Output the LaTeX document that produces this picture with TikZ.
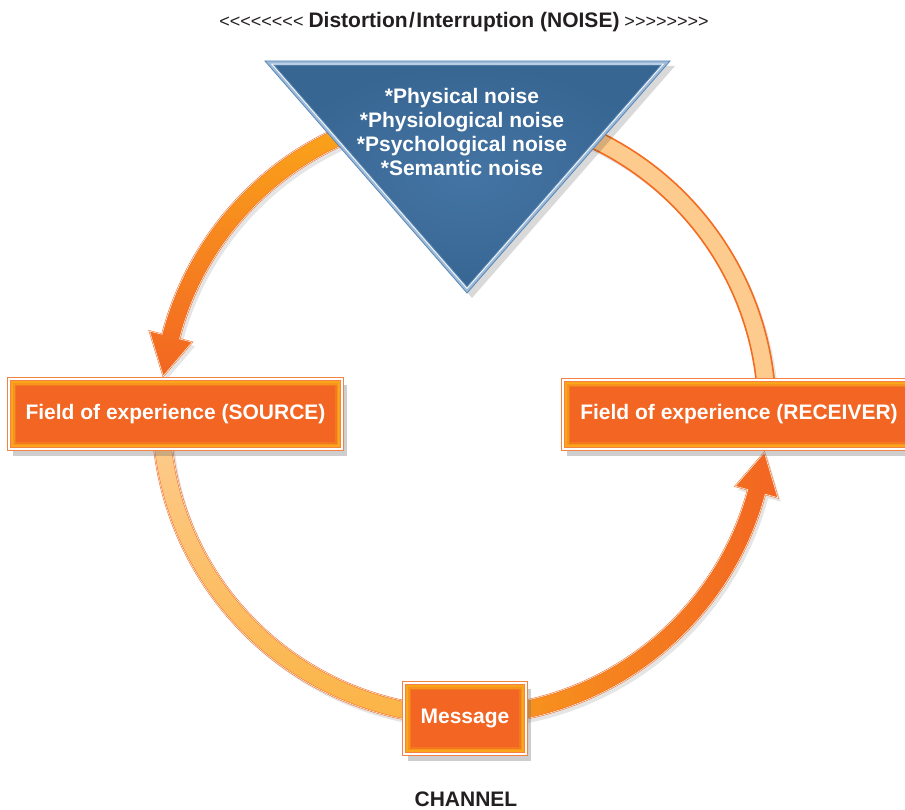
\documentclass[tikz,border=0pt]{standalone}
\usepackage{fontspec}
\newfontfamily\lib{Liberation Sans}
\setmainfont{Liberation Sans}
\usetikzlibrary{shadows}
\definecolor{ordark}{HTML}{F26522}
\definecolor{ormid}{HTML}{F7941D}
\definecolor{orgold}{HTML}{FAA61A}
\definecolor{orline}{HTML}{F36C21}
\definecolor{peach}{HTML}{FDCB8D}
\definecolor{peachdeep}{HTML}{FBB445}
\definecolor{txtdark}{HTML}{231F20}
\definecolor{triedge}{HTML}{9DBBD9}
\definecolor{tribord}{HTML}{5A86B3}
\definecolor{blueA}{HTML}{4474A3}
\definecolor{blueB}{HTML}{386693}
\newcommand\TLpath{(108:312) arc[start angle=108,end angle=165.4,radius=312] -- (165.4:325) -- (173:303) -- (165.4:281) -- (165.4:294) arc[start angle=165.4,end angle=108,radius=294] -- cycle}
\newcommand\TRpath{(72:312) arc[start angle=72,end angle=3,radius=312] -- (3:294) arc[start angle=3,end angle=72,radius=294] -- cycle}
\newcommand\BLpath{(184:312) arc[start angle=184,end angle=262,radius=312] -- (262:294) arc[start angle=262,end angle=184,radius=294] -- cycle}
\newcommand\BRpath{(-80:312) arc[start angle=-80,end angle=-15.1,radius=312] -- (-15.1:325) -- (-7.5:303) -- (-15.1:281) -- (-15.1:294) arc[start angle=-15.1,end angle=-80,radius=294] -- cycle}
\newcommand\TriPath{(-202.2,92) -- (202.8,92) -- (-0.2,-140) -- cycle}
\begin{document}
\begin{tikzpicture}[x=1pt,y=1pt,
  bigtext/.style={font=\lib\fontsize{21}{24}\selectfont\bfseries},
  band/.style={draw=orline, line width=1.6pt},
  bandhl/.style={draw=white, line width=0.5pt},
  bandshadow/.style={fill=black, opacity=0.10},
  fieldbox/.style={bigtext, text=white, draw=orline!85, line width=0.9pt,
    double=white, double distance=1.8pt, fill=ordark, inner sep=0pt,
    path picture={
      \fill[orgold] (path picture bounding box.south west) rectangle (path picture bounding box.north east);
      \fill[ormid] ([shift={(4pt,4pt)}]path picture bounding box.south west) rectangle ([shift={(-4pt,-4pt)}]path picture bounding box.north east);
      \fill[ordark!60!ormid] ([shift={(5.5pt,5.5pt)}]path picture bounding box.south west) rectangle ([shift={(-5.5pt,-5.5pt)}]path picture bounding box.north east);
      \fill[ordark] ([shift={(7pt,7pt)}]path picture bounding box.south west) rectangle ([shift={(-7pt,-7pt)}]path picture bounding box.north east);
    }},
  boxshadow/.style={fill=black!55, opacity=0.35},
  noisetext/.style={bigtext, text=white, anchor=base},
]
\useasboundingbox (0,0) rectangle (905,-810);

% ring shadows
\begin{scope}[shift={(467,-417)}]
  \fill[bandshadow] \TLpath;
  \fill[bandshadow] \TRpath;
  \fill[bandshadow] \BLpath;
  \fill[bandshadow] \BRpath;
\end{scope}

% ring segments
\begin{scope}[shift={(464,-413)}]
  \coordinate (ringcentre) at (0,0);
  \path[band, top color=orgold, middle color=ormid, bottom color=ordark] \TLpath;
  \draw[bandhl] \TLpath;
  \path[band, fill=peach] \TRpath;
  \path[band, top color=peach, bottom color=peachdeep] \BLpath;
  \draw[bandhl] \BLpath;
  \path[band, left color=ormid, right color=ordark] \BRpath;
  \draw[bandhl] \BRpath;
\end{scope}

% noise triangle
\begin{scope}[shift={(467.2,-153)}]
  \fill[black, opacity=0.15, shift={(5,-5)}] \TriPath;
  \path[fill=triedge, draw=tribord, line width=0.8pt] \TriPath;
  \begin{scope}[scale=0.972]
    \fill[white!85!triedge] \TriPath;
  \end{scope}
  \begin{scope}[scale=0.955]
    \path[inner color=blueA, outer color=blueB, draw=tribord, line width=0.8pt] \TriPath;
  \end{scope}
\end{scope}

\node[noisetext] (n1) at (462,-104) {*Physical noise};
\node[noisetext] (n2) at (462,-128) {*Physiological noise};
\node[noisetext] (n3) at (462,-152) {*Psychological noise};
\node[noisetext] (n4) at (462,-176) {*Semantic noise};

% title
\node[anchor=base, text=txtdark, inner sep=0pt] (title) at (464,-28)
  {{\lib\fontsize{18}{20}\selectfont <<<<<<<<}\hspace{5pt}{\lib\fontsize{21}{24}\selectfont\bfseries Distortion\kern1.5pt/\kern1.5pt Interruption (NOISE)}\hspace{5pt}{\lib\fontsize{18}{20}\selectfont >>>>>>>>}};

% box shadows
\fill[boxshadow] (13,-385) rectangle (347,-456);
\fill[boxshadow] (567,-386) rectangle (910,-456);
\fill[boxshadow] (408,-689) rectangle (531,-761);

% boxes
\node[fieldbox, minimum width=333pt, minimum height=70pt] (source) at (175.5,-414) {Field of experience (SOURCE)};
\node[fieldbox, minimum width=352pt, minimum height=69pt] (receiver) at (739,-414.5) {Field of experience (RECEIVER)};
\node[fieldbox, minimum width=122pt, minimum height=71pt] (message) at (465,-718.5) {Message};

\node[bigtext, text=txtdark, anchor=base] (channel) at (466,-806) {CHANNEL};
\end{tikzpicture}
\end{document}
